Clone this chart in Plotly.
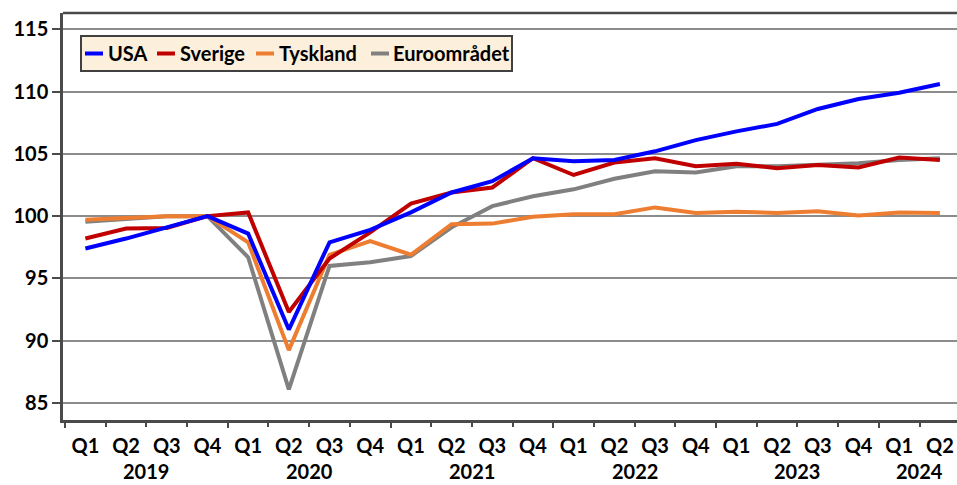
import plotly.graph_objects as go

quarters = ["Q1", "Q2", "Q3", "Q4"] * 5 + ["Q1", "Q2"]
years = ["2019", "2020", "2021", "2022", "2023", "2024"]
year_centers = [1.5, 5.5, 9.5, 13.5, 17.5, 20.5]

usa = [97.4, 98.2, 99.1, 100.0, 98.6, 90.9, 97.9, 98.9, 100.3, 101.9, 102.8, 104.65,
       104.4, 104.5, 105.2, 106.1, 106.8, 107.4, 108.6, 109.4, 109.9, 110.6]
sverige = [98.2, 99.0, 99.05, 100.0, 100.3, 92.3, 96.6, 98.7, 101.0, 101.9, 102.3, 104.65,
           103.3, 104.3, 104.65, 104.0, 104.2, 103.85, 104.1, 103.9, 104.7, 104.5]
tyskland = [99.7, 99.85, 100.0, 100.0, 97.9, 89.25, 96.9, 98.0, 96.9, 99.35, 99.4, 99.95,
            100.15, 100.15, 100.7, 100.25, 100.35, 100.25, 100.4, 100.05, 100.3, 100.25]
euro = [99.55, 99.8, 100.0, 100.0, 96.7, 86.1, 96.0, 96.3, 96.8, 99.1, 100.8, 101.6,
        102.15, 103.0, 103.6, 103.5, 104.0, 104.0, 104.1, 104.25, 104.5, 104.65]

names = ["USA", "Sverige", "Tyskland", "Euroområdet"]
colors = ["#0000FF", "#C00000", "#ED7D31", "#808080"]
values = [usa, sverige, tyskland, euro]

x = list(range(len(quarters)))
font_family = "Lato, 'Open Sans', sans-serif"
axis_col = "#4a4a4a"

# plot-area geometry (pixels) used to place the hand-drawn legend
L, T, W, H = 63, 13, 894, 407
def px(xp):
    return (xp - L) / W
def py(yp):
    return 1 - (yp - T) / H

fig = go.Figure()
# draw order: Euro bottom, then Tyskland, Sverige, USA on top
for i in [3, 2, 1, 0]:
    fig.add_trace(go.Scatter(x=x, y=values[i], mode="lines", name=names[i],
                             line=dict(color=colors[i], width=4), showlegend=False))

xrange = [-0.55, 21.42]
fig.update_layout(
    width=957, height=485,
    margin=dict(l=L, r=0, t=T, b=485 - T - H, autoexpand=False),
    paper_bgcolor="white", plot_bgcolor="white",
    font=dict(family=font_family, size=20, color="black", weight="bold"),
    showlegend=False,
    xaxis=dict(range=xrange, tickmode="array", tickvals=x, ticktext=quarters,
               ticks="", showgrid=False, zeroline=False,
               showline=True, linecolor=axis_col, linewidth=2.5,
               tickfont=dict(size=20), ticklabelstandoff=6,
               minor=dict(tickmode="array", tickvals=[i - 0.5 for i in range(23)],
                          ticks="outside", ticklen=4, tickcolor=axis_col, tickwidth=1.5,
                          showgrid=False)),
    xaxis2=dict(range=xrange, overlaying="x", anchor="y", side="bottom",
                tickmode="array", tickvals=[-0.5, 3.5, 7.5, 11.5, 15.5, 19.5],
                ticks="outside", ticklen=7, tickcolor=axis_col, tickwidth=1.5,
                showticklabels=False, showgrid=False, zeroline=False, showline=False),
    yaxis=dict(range=[83.64, 116.3], tickmode="array", tickvals=[85, 90, 95, 100, 105, 110, 115],
               showgrid=True, gridcolor="#8c8c8c", gridwidth=1.5, zeroline=False,
               showline=True, linecolor=axis_col, linewidth=2.5,
               ticks="outside", ticklen=8, tickcolor=axis_col, tickwidth=1.5,
               tickfont=dict(size=20)),
)
fig.add_trace(go.Scatter(x=[x[0]], y=[usa[0]], xaxis="x2", mode="lines",
                         showlegend=False, hoverinfo="skip", line=dict(width=0)))

fig.add_shape(type="line", xref="paper", yref="paper", x0=0, x1=1, y0=1, y1=1,
              line=dict(color=axis_col, width=2.5))

for yc, yr in zip(year_centers, years):
    fig.add_annotation(x=yc, y=0, xref="x", yref="paper", text=yr, showarrow=False,
                       yanchor="middle", yshift=-51, font=dict(size=20))

# legend box
fig.add_shape(type="rect", xref="paper", yref="paper", x0=px(81), x1=px(512),
              y0=py(71), y1=py(36), fillcolor="#FCEFDC",
              line=dict(color="#404040", width=2), layer="above")
sample_x = [85, 157, 256, 371]
text_x = [106, 178, 277, 391]
ly = py(53.5)
for i in range(4):
    fig.add_shape(type="line", xref="paper", yref="paper", x0=px(sample_x[i]),
                  x1=px(sample_x[i] + 18), y0=ly, y1=ly,
                  line=dict(color=colors[i], width=4), layer="above")
    fig.add_annotation(x=px(text_x[i]), y=ly, xref="paper", yref="paper", text=names[i],
                       showarrow=False, xanchor="left", yanchor="middle",
                       font=dict(size=20))

fig.write_html("out.html", config={"displayModeBar": False},
               post_script="document.body.style.margin='0';document.body.style.overflow='hidden';")
